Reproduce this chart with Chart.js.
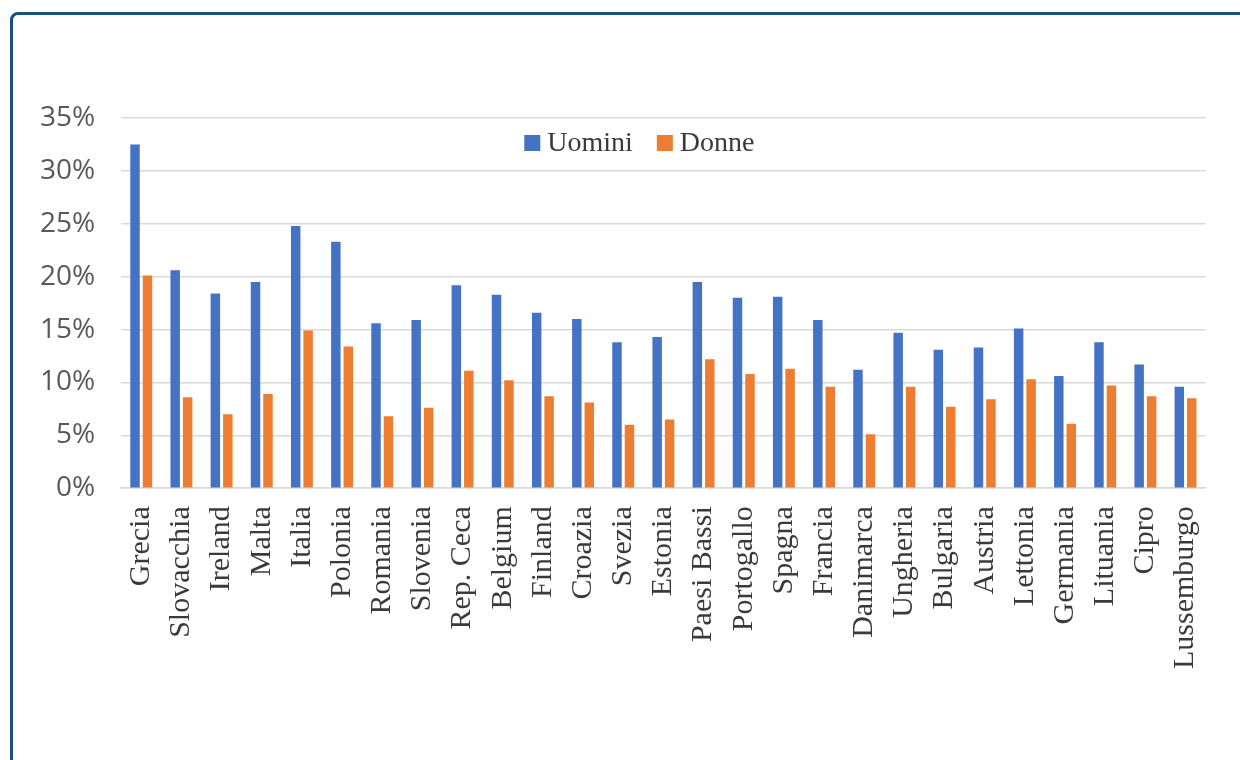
<!DOCTYPE html>
<html>
<head>
<meta charset="utf-8">
<script src="https://cdn.jsdelivr.net/npm/chart.js@4.4.1/dist/chart.umd.min.js"></script>
<style>
  html, body { margin: 0; padding: 0; background: #ffffff; overflow: hidden; }
  #wrap { position: relative; width: 1240px; height: 760px; overflow: hidden; }
  #frame { position: absolute; left: 10px; top: 12px; width: 1260px; height: 800px;
           border: 3px solid #1b4f7e; border-radius: 8px; box-sizing: border-box; }
  #cwrap { position: absolute; left: 0; top: 0; width: 1240px; height: 760px; }
</style>
</head>
<body>
<div id="wrap">
  <div id="frame"></div>
  <div id="cwrap"><canvas id="c"></canvas></div>
</div>
<script>
const categories = ["Grecia","Slovacchia","Ireland","Malta","Italia","Polonia","Romania","Slovenia","Rep. Ceca","Belgium","Finland","Croazia","Svezia","Estonia","Paesi Bassi","Portogallo","Spagna","Francia","Danimarca","Ungheria","Bulgaria","Austria","Lettonia","Germania","Lituania","Cipro","Lussemburgo"];
const uomini = [32.5,20.6,18.4,19.5,24.8,23.3,15.6,15.9,19.2,18.3,16.6,16.0,13.8,14.3,19.5,18.0,18.1,15.9,11.2,14.7,13.1,13.3,15.1,10.6,13.8,11.7,9.6];
const donne  = [20.1,8.6,7.0,8.9,14.9,13.4,6.8,7.6,11.1,10.2,8.7,8.1,6.0,6.5,12.2,10.8,11.3,9.6,5.1,9.6,7.7,8.4,10.3,6.1,9.7,8.7,8.5];
const seriesNames = ["Uomini","Donne"];
const seriesColors = ["#4472c4", "#ed7d31"];
const yTicks = [0,5,10,15,20,25,30,35];

// Legend drawn inside the plot area (as in the original), centred slightly left of the middle
const innerLegend = {
  id: 'innerLegend',
  afterDraw(chart) {
    const ctx = chart.ctx;
    const ca = chart.chartArea;
    const font = '28px "Liberation Serif", serif';
    const box = 16, gapText = 7, gapItem = 24;
    ctx.save();
    ctx.font = font;
    const items = chart.data.datasets.map(d => ({ text: d.label, color: d.backgroundColor, w: ctx.measureText(d.label).width }));
    let total = 0;
    items.forEach((it, i) => { total += box + gapText + it.w + (i ? gapItem : 0); });
    const cx = (ca.left + ca.right) / 2 - 24;
    const cy = ca.top + 25;
    let x = cx - total / 2;
    ctx.textBaseline = 'middle';
    ctx.textAlign = 'left';
    items.forEach((it, i) => {
      if (i) x += gapItem;
      ctx.fillStyle = it.color;
      ctx.fillRect(x, cy - box / 2, box, box);
      x += box + gapText;
      ctx.fillStyle = '#3a3a3a';
      ctx.fillText(it.text, x, cy + 1);
      x += it.w;
    });
    ctx.restore();
  }
};

new Chart(document.getElementById('c'), {
  type: 'bar',
  data: {
    labels: categories,
    datasets: [
      { label: seriesNames[0], data: uomini, backgroundColor: seriesColors[0], borderWidth: 0,
        categoryPercentage: 0.62, barPercentage: 0.76 },
      { label: seriesNames[1], data: donne, backgroundColor: seriesColors[1], borderWidth: 0,
        categoryPercentage: 0.62, barPercentage: 0.76 }
    ]
  },
  options: {
    responsive: true,
    maintainAspectRatio: false,
    animation: false,
    layout: { padding: { left: 14, right: 25, top: 118, bottom: 73 } },
    plugins: {
      legend: { display: false },
      tooltip: { enabled: false }
    },
    scales: {
      x: {
        grid: { display: false, drawTicks: false },
        border: { display: true, color: '#d9d9d9', width: 1.5 },
        ticks: {
          color: '#3a3a3a', padding: 18, minRotation: 90, maxRotation: 90, autoSkip: false,
          font: { family: '"Liberation Serif", serif', size: 30 }
        }
      },
      y: {
        min: 0, max: 35,
        afterBuildTicks(axis) { axis.ticks = yTicks.map(v => ({ value: v })); },
        grid: { color: '#d9d9d9', lineWidth: 1.5, drawTicks: false },
        border: { display: false },
        ticks: {
          color: '#595959', padding: 26,
          font: { family: '"Open Sans", sans-serif', size: 28 },
          callback: v => v + '%'
        }
      }
    }
  },
  plugins: [innerLegend]
});
</script>
</body>
</html>
